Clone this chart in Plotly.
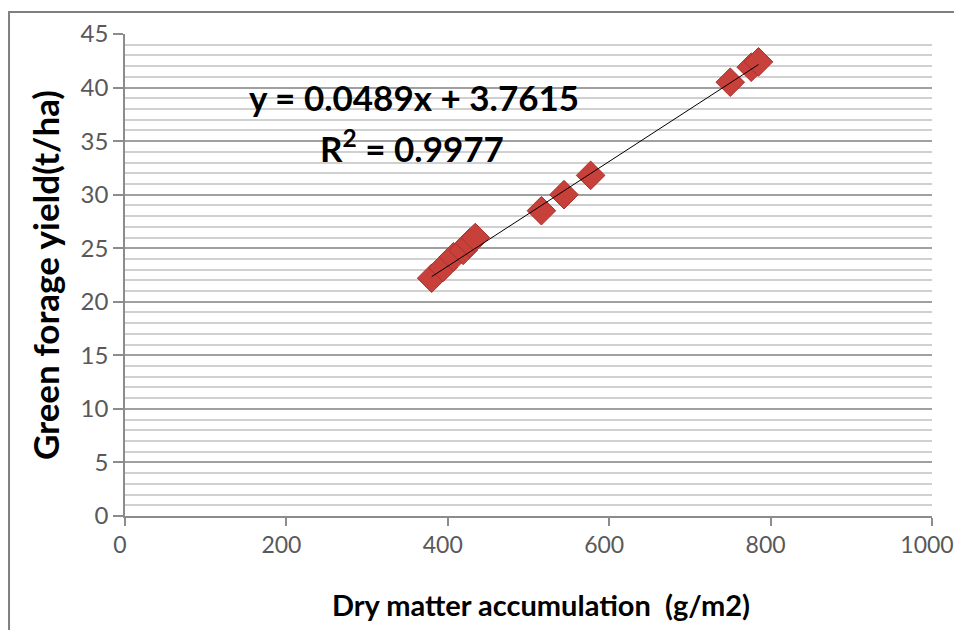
import plotly.graph_objects as go

# Data
dry_matter = [380, 394, 407, 419, 427, 434, 516, 544, 577, 750, 776, 785]
green_yield = [22.2, 23.2, 24.2, 24.8, 25.5, 26.0, 28.5, 30.0, 31.8, 40.5, 41.9, 42.4]

# Linear trendline coefficients (as shown in the chart)
slope = 0.0489
intercept = 3.7615
r_squared = 0.9977

x_ticks = [0, 200, 400, 600, 800, 1000]
y_ticks = [0, 5, 10, 15, 20, 25, 30, 35, 40, 45]

FONT = "Lato"

x_min, x_max = min(dry_matter), max(dry_matter)
trend_x = [x_min, x_max]
trend_y = [slope * v + intercept for v in trend_x]

fig = go.Figure()

fig.add_trace(go.Scatter(
    x=dry_matter, y=green_yield, mode="markers",
    marker=dict(symbol="diamond", size=22, color="#C8403A",
                line=dict(color="#A83030", width=1)),
    showlegend=False, hoverinfo="x+y"))

fig.add_trace(go.Scatter(
    x=trend_x, y=trend_y, mode="lines",
    line=dict(color="#000000", width=1),
    showlegend=False, hoverinfo="skip"))

fig.add_annotation(
    x=358, y=39.1, xref="x", yref="y", showarrow=False,
    xanchor="center", yanchor="middle",
    text=f"<b>y = {slope}x + {intercept}</b>",
    font=dict(family=FONT, size=35, color="#000000"))
fig.add_annotation(
    x=356, y=34.5, xref="x", yref="y", showarrow=False,
    xanchor="center", yanchor="middle",
    text=f"<b>R<sup>2</sup> = {r_squared}</b>",
    font=dict(family=FONT, size=35, color="#000000"))

# Axis titles
fig.add_annotation(
    x=0.515, y=-0.1846, xref="paper", yref="paper", showarrow=False,
    xanchor="center", yanchor="middle",
    text="<b>Dry matter accumulation  (g/m2)</b>",
    font=dict(family=FONT, size=29, color="#000000"))
fig.add_annotation(
    x=-0.0991, y=0.5, xref="paper", yref="paper", showarrow=False,
    xanchor="center", yanchor="middle",
    text="<b>Green forage yield(t/ha)</b>", textangle=-90,
    font=dict(family=FONT, size=35, color="#000000"))

# Outer frame of the chart
fig.add_shape(type="rect", xref="paper", yref="paper",
              x0=-0.1437, y0=-0.6, x1=1.2, y1=1.0456,
              line=dict(color="#7F7F7F", width=2), layer="below")

fig.update_xaxes(
    range=[0, 1000], tickvals=x_ticks, ticktext=[str(v) for v in x_ticks],
    showgrid=False, zeroline=False, automargin=False,
    showline=True, linecolor="#8C8C8C", linewidth=1.5,
    ticks="outside", ticklen=8, tickcolor="#8C8C8C", tickwidth=1.5,
    ticklabelshift=-5,
    tickfont=dict(family=FONT, size=23, color="#595959"))

fig.update_yaxes(
    range=[0, 45], tickvals=y_ticks, ticktext=[str(v) for v in y_ticks],
    showgrid=True, gridcolor="#A0A0A0", gridwidth=1.5,
    minor=dict(dtick=1, showgrid=True, gridcolor="#D0D0D0", gridwidth=2),
    zeroline=False, automargin=False,
    showline=True, linecolor="#8C8C8C", linewidth=1.5,
    ticks="outside", ticklen=10, tickcolor="#8C8C8C", tickwidth=1.5,
    tickfont=dict(family=FONT, size=24, color="#595959"))

fig.update_layout(
    width=954, height=622,
    margin=dict(l=117, r=30, t=26, b=114),
    plot_bgcolor="#FFFFFF", paper_bgcolor="#FFFFFF",
    font=dict(family=FONT))

fig.write_html("out.html")
